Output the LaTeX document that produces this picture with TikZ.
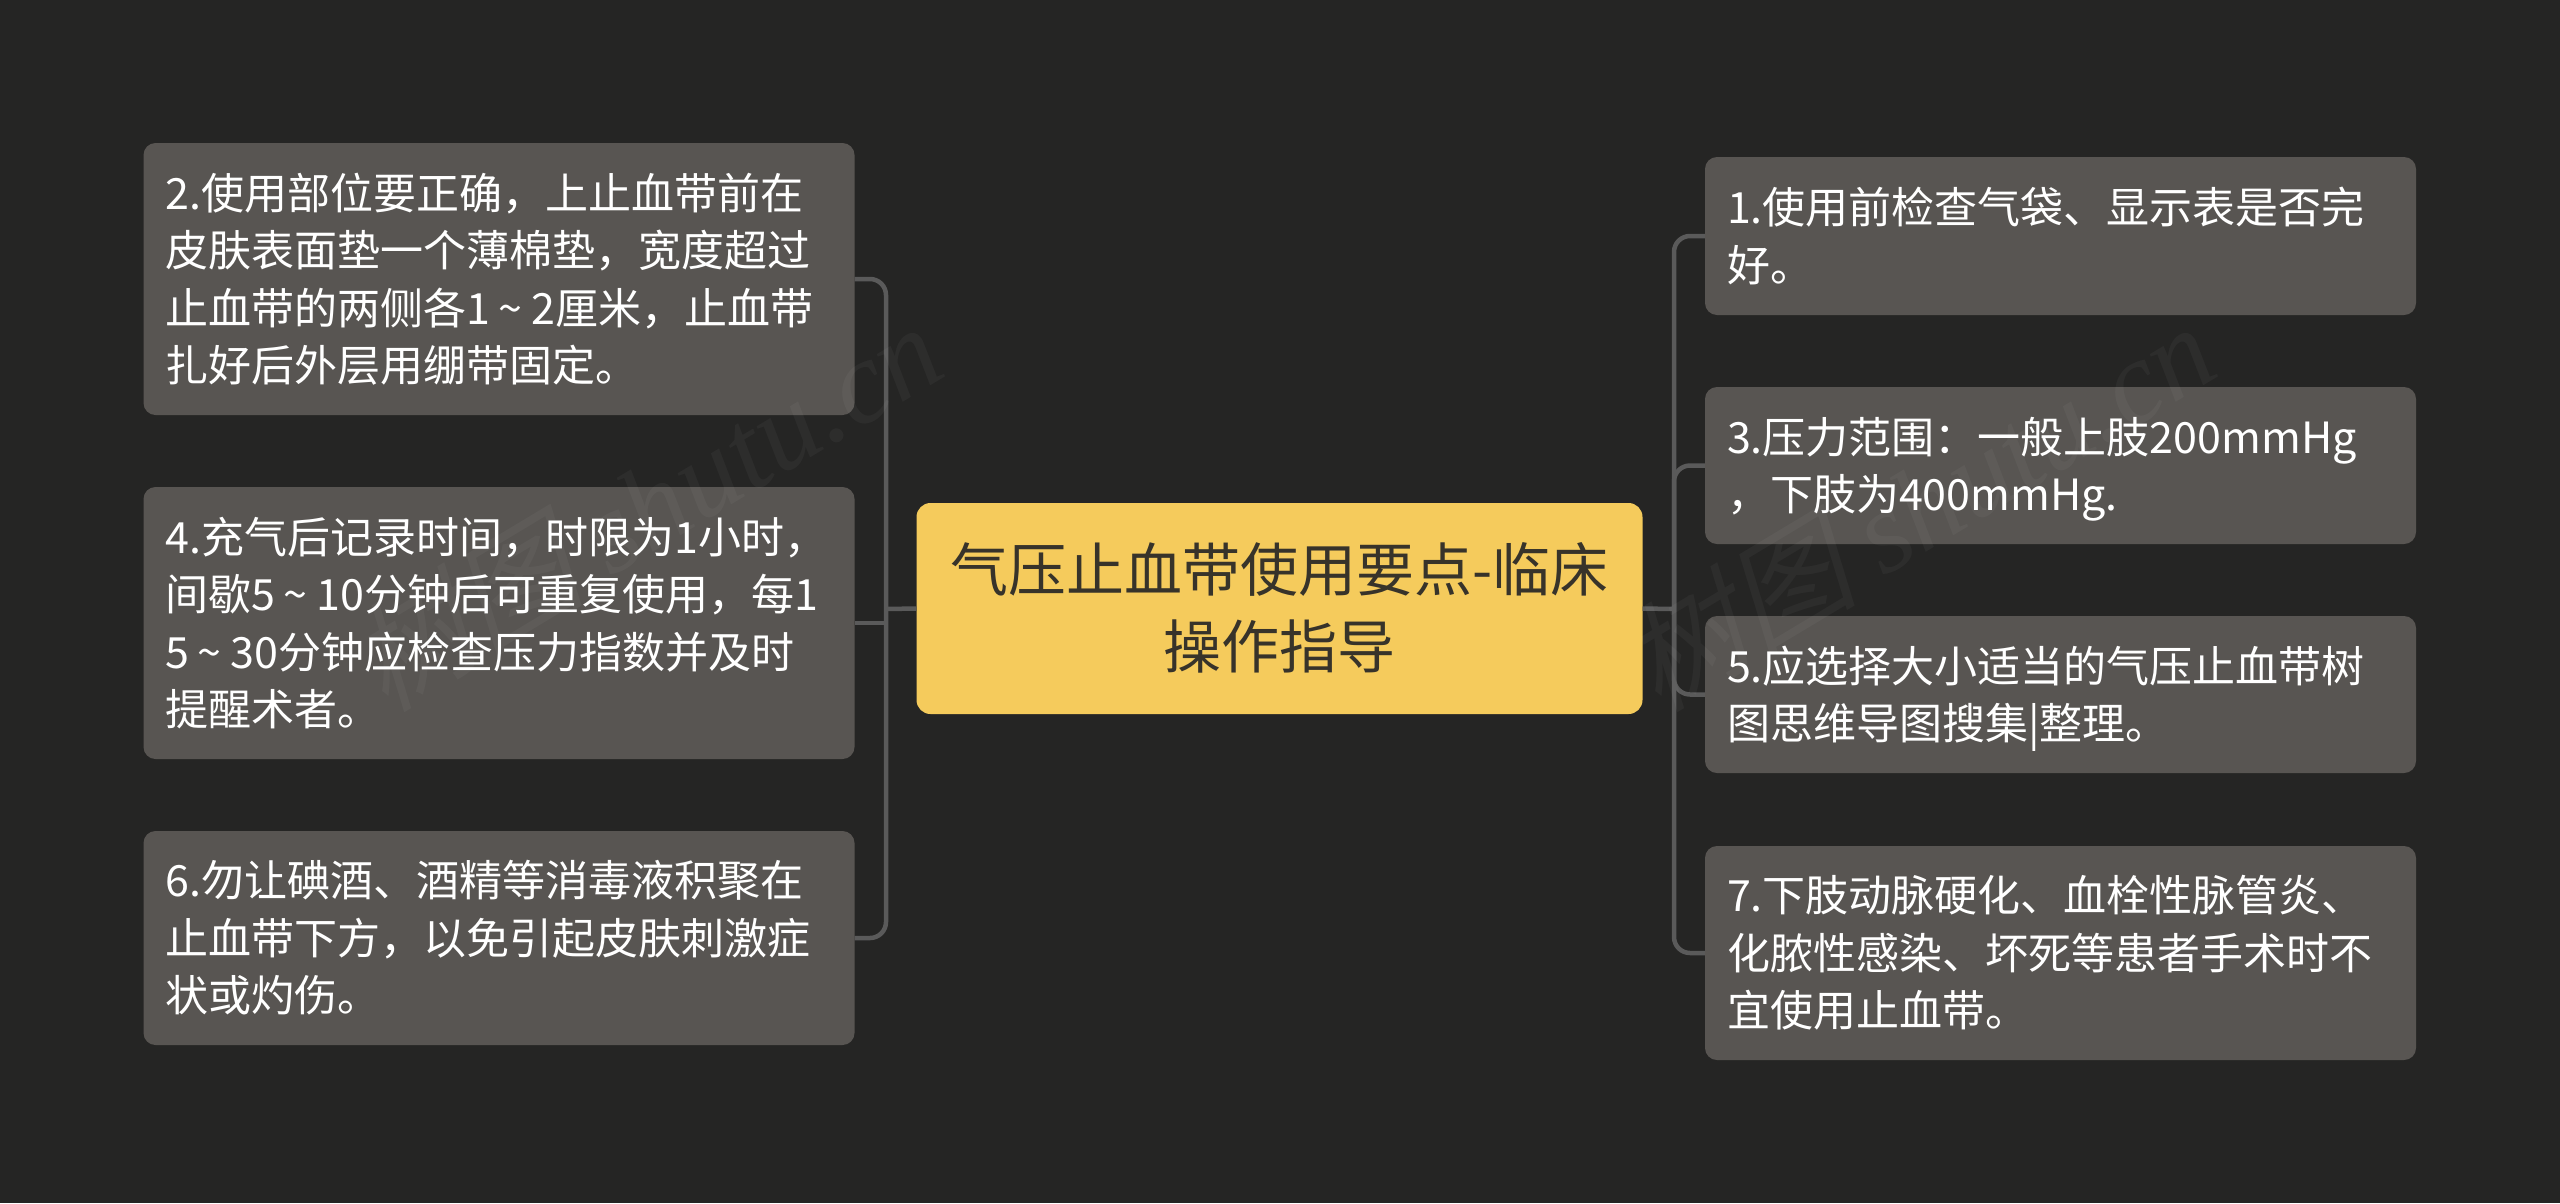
\documentclass[tikz,border=0pt]{standalone}
\usepackage{fontspec}
\setmainfont{Noto Sans CJK SC}
\newfontfamily\wmcjk[FakeSlant=0.25]{Noto Sans CJK SC}
\newfontfamily\wmlat{Liberation Serif}
\newcommand{\tld}{\hspace{.2em}\textasciitilde\hspace{.2em}}
\definecolor{bgc}{HTML}{252524}
\definecolor{boxc}{HTML}{585552}
\definecolor{linec}{HTML}{5A5A5A}
\definecolor{rootc}{HTML}{F5CB5C}
\definecolor{roott}{HTML}{37332A}
\tikzset{
  leaf/.style={fill=boxc,rounded corners=12pt,text=white,align=left,anchor=center,
    text width=667pt,inner xsep=22pt,inner ysep=0pt,
    execute at begin node={\rule{0pt}{50pt}},execute at end node=\strut,
    font=\fontsize{43}{57.5}\selectfont},
  rootbox/.style={fill=rootc,rounded corners=14pt,text=roott,align=center,anchor=center,
    text width=700pt,inner xsep=13pt,inner ysep=0pt,minimum height=211pt,
    execute at begin node={\rule{0pt}{66pt}},execute at end node=\strut,
    font=\fontsize{58}{76.5}\selectfont},
  conn/.style={draw=linec,line width=4.5pt},
  wmark/.style={white,opacity=0.04,rotate=31,anchor=center,inner sep=0pt}
}
\begin{document}
\begin{tikzpicture}[x=1pt,y=-1pt]
\useasboundingbox[fill=bgc] (0,0) rectangle (2560,1203);
\coordinate (tL) at (886,609);
\coordinate (tR) at (1674,609);
\node[rootbox] (root) at (1279.5,608.5) {气压止血带使用要点-临床\\操作指导};
\node[leaf,minimum height=272pt] (n2) at (499,279) {2.使用部位要正确，上止血带前在\\皮肤表面垫一个薄棉垫，宽度超过\\止血带的两侧各1\tld 2厘米，止血带\\扎好后外层用绷带固定。};
\node[leaf,minimum height=272pt] (n4) at (499,623) {4.充气后记录时间，时限为1小时，\\间歇5\tld 10分钟后可重复使用，每1\\5\tld 30分钟应检查压力指数并及时\\提醒术者。};
\node[leaf,minimum height=214pt] (n6) at (499,938) {6.勿让碘酒、酒精等消毒液积聚在\\止血带下方，以免引起皮肤刺激症\\状或灼伤。};
\node[leaf,minimum height=158pt] (n1) at (2060.5,236) {1.使用前检查气袋、显示表是否完\\好。};
\node[leaf,minimum height=157pt] (n3) at (2060.5,465.5) {3.压力范围：一般上肢200mmHg\\，下肢为400mmHg.};
\node[leaf,minimum height=157pt] (n5) at (2060.5,694.5) {5.应选择大小适当的气压止血带树\\图思维导图搜集|整理。};
\node[leaf,minimum height=214pt] (n7) at (2060.5,953) {7.下肢动脉硬化、血栓性脉管炎、\\化脓性感染、坏死等患者手术时不\\宜使用止血带。};
\draw[conn] (root.west) -- (tL);
\draw[conn] (root.east) -- (tR);
\draw[conn,rounded corners=16pt] (n2.east) -- (tL |- n2.east) -- (tL |- n6.east) -- (n6.east);
\draw[conn] (n4.east) -- (tL |- n4.east);
\draw[conn,rounded corners=16pt] (n1.west) -- (tR |- n1.west) -- (tR |- n7.west) -- (n7.west);
\draw[conn,rounded corners=16pt] (n3.west) -- (tR |- n3.west) -- (tR |- n5.west) -- (n5.west);
\node[wmark] (wm1) at (645,505) {\fontsize{118}{120}\selectfont\wmcjk 树图 \wmlat\itshape shutu.cn};
\node[wmark] (wm2) at (1918,505) {\fontsize{118}{120}\selectfont\wmcjk 树图 \wmlat\itshape shutu.cn};
\end{tikzpicture}
\end{document}
